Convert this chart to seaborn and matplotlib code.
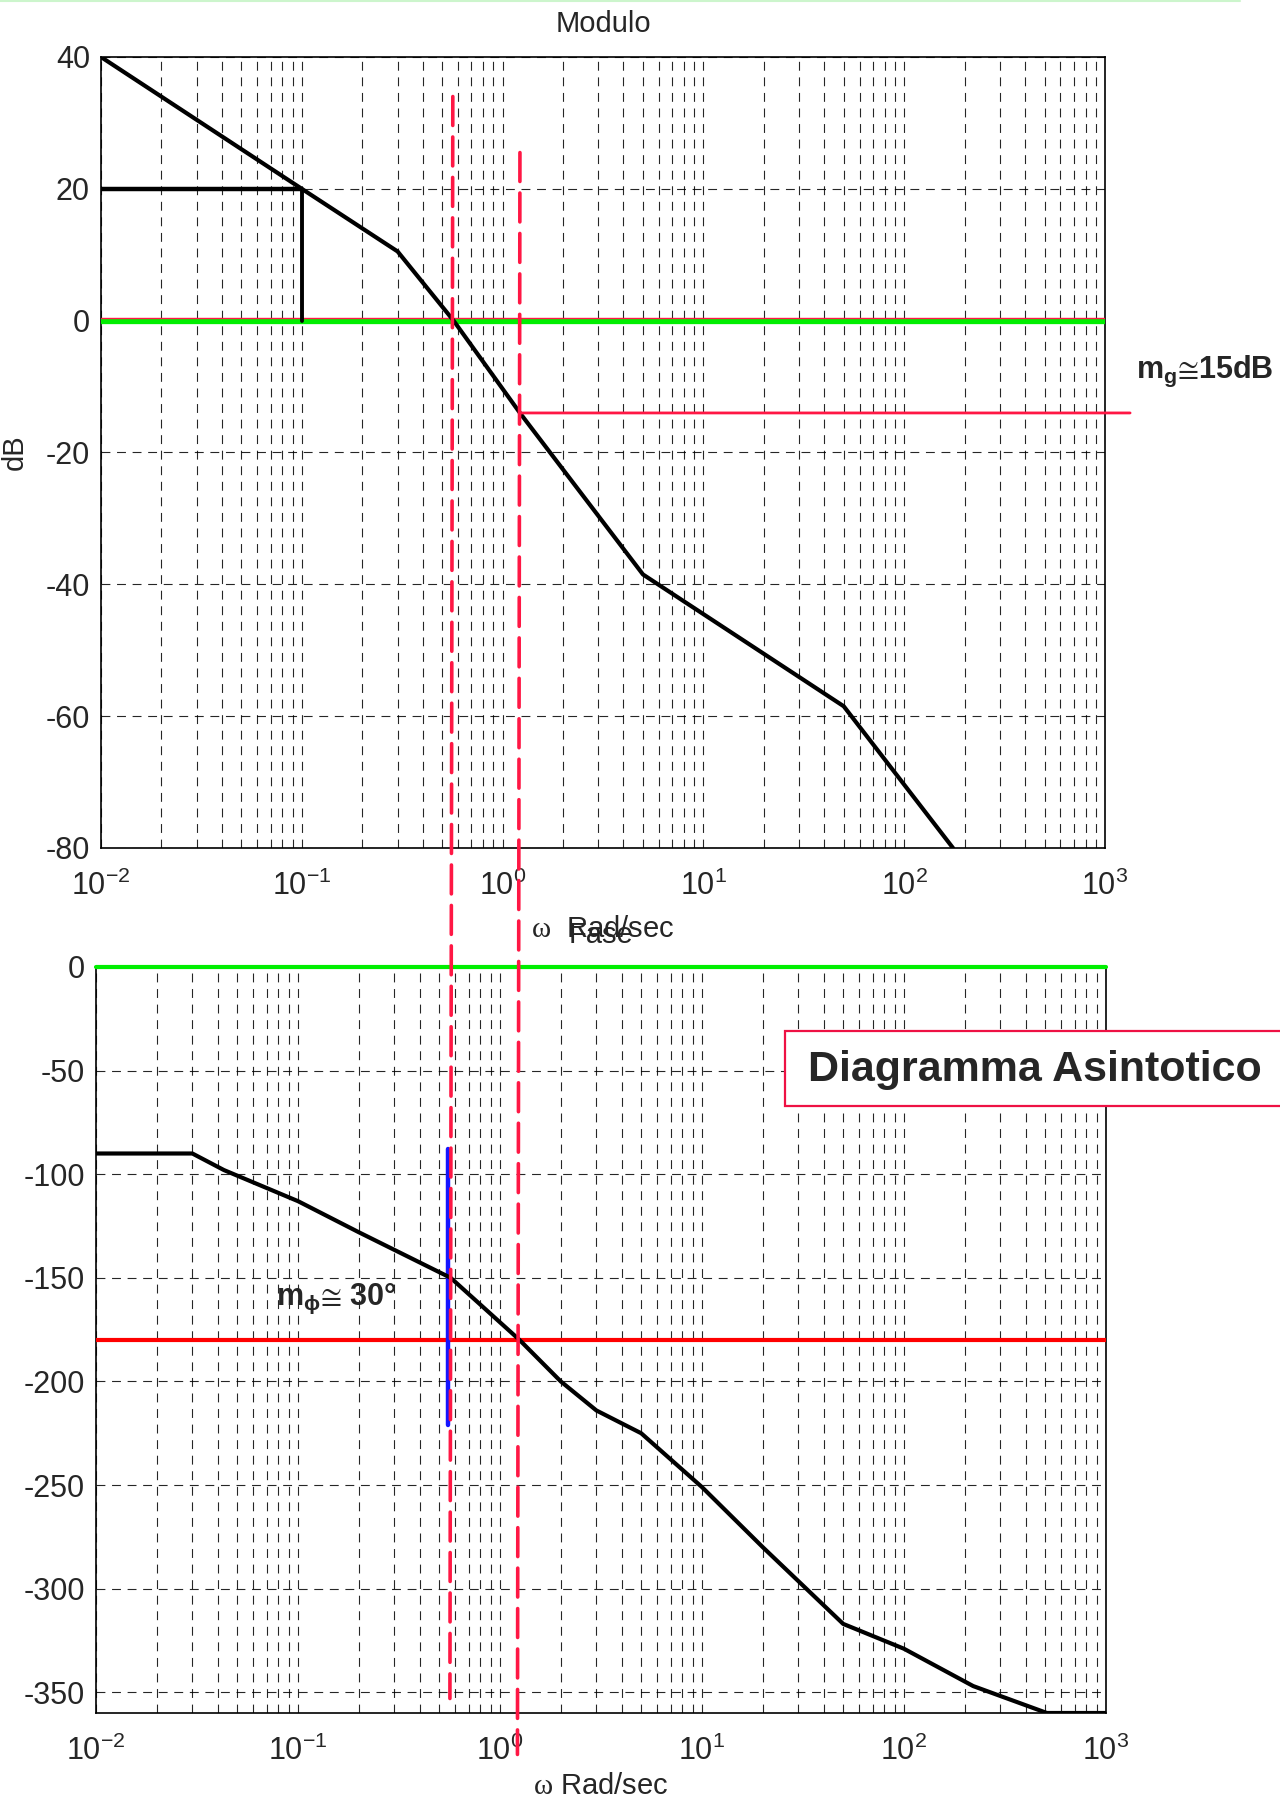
import matplotlib
matplotlib.use("Agg")
import matplotlib.pyplot as plt
import seaborn as sns
import pandas as pd
from matplotlib.patches import ConnectionPatch, Rectangle
from matplotlib.lines import Line2D
from matplotlib.ticker import LogLocator, FixedLocator, NullFormatter, LogFormatterSciNotation
import matplotlib.transforms as mtransforms

# ---------------- data ----------------
omega_mag = [0.01, 0.1, 0.3, 0.57, 1.22, 5.0, 50.0, 175.0]
mag_db = [40, 20, 10.5, 0, -14, -38.5, -58.5, -80]

omega_phase = [0.01, 0.03, 0.043, 0.1, 0.2, 0.57, 1.25, 2.0, 3.0, 5.0,
               10.0, 20.0, 50.0, 100.0, 220.0, 510.0, 1000.0]
phase_deg = [-90, -90, -98, -113, -128, -150, -180, -200, -214, -225,
             -251, -280, -317, -329, -347, -360, -360]

omega_c = 0.565         # gain crossover (0 dB)
omega_pm = 0.555        # blue phase-margin segment
omega_pi = 1.22         # phase crossover (-180 deg)
gm_level_db = -14       # magnitude at omega_pi
ref_omega = 0.1         # reference marker
ref_db = 20
pm_span = [-88, -221]   # blue segment on phase plot
phase_ref = -180
omega_c_top_db, omega_c_bottom_deg = 34, -353
omega_pi_top_db, omega_pi_bottom_deg = 25.5, -380

x_ticks = [1e-2, 1e-1, 1e0, 1e1, 1e2, 1e3]
mag_ticks = [40, 20, 0, -20, -40, -60, -80]
phase_ticks = [0, -50, -100, -150, -200, -250, -300, -350]

mag_df = pd.DataFrame({"omega": omega_mag, "dB": mag_db})
phase_df = pd.DataFrame({"omega": omega_phase, "deg": phase_deg})

# ---------------- style ----------------
sns.set_style("white")
plt.rcParams["font.family"] = ["Liberation Sans", "DejaVu Sans"]
plt.rcParams["axes.unicode_minus"] = False
plt.rcParams["mathtext.fontset"] = "custom"
plt.rcParams["mathtext.rm"] = "Liberation Serif"
plt.rcParams["mathtext.it"] = "Liberation Sans:italic"
plt.rcParams["mathtext.bf"] = "Liberation Sans:bold"
plt.rcParams["mathtext.sf"] = "Liberation Sans"
plt.rcParams["mathtext.fallback"] = "stix"

FS = 21
TICK_FS = 22
GRID_LS = (0, (8, 6))

fig = plt.figure(figsize=(12.8, 18), dpi=100)
W, H = 1280, 1800
ax1 = fig.add_axes([101 / W, 1 - 848 / H, (1105 - 101) / W, (848 - 57) / H])
ax2 = fig.add_axes([96 / W, 1 - 1713 / H, (1106 - 96) / W, (1713 - 967) / H])

for ax in (ax1, ax2):
    ax.set_xscale("log")
    ax.set_xlim(x_ticks[0], x_ticks[-1])
    ax.xaxis.set_major_locator(FixedLocator(x_ticks))
    ax.xaxis.set_major_formatter(LogFormatterSciNotation())
    ax.xaxis.set_minor_locator(LogLocator(base=10, subs=range(2, 10), numticks=50))
    ax.xaxis.set_minor_formatter(NullFormatter())
    ax.grid(which="major", axis="both", linestyle=GRID_LS, linewidth=0.8, color="black", alpha=0.85)
    ax.grid(which="minor", axis="x", linestyle=GRID_LS, linewidth=0.8, color="black", alpha=0.85)
    ax.tick_params(which="major", direction="in", length=5, labelsize=TICK_FS, pad=8)
    ax.tick_params(axis="x", which="major", pad=16)
    ax.tick_params(which="minor", length=0)
    for s in ax.spines.values():
        s.set_color("black")
        s.set_linewidth(1.2)
    ax.set_axisbelow(True)

# ---------------- magnitude ----------------
ax1.set_ylim(-80, 40)
ax1.yaxis.set_major_locator(FixedLocator(mag_ticks))
off_up = mtransforms.ScaledTranslation(0, 2.2 / 100, fig.dpi_scale_trans)
ax1.axhline(0, color="#00ee00", lw=3.8, zorder=3)
ax1.plot([0, 1], [0, 0], transform=ax1.get_yaxis_transform() + off_up,
         color="#ff1744", lw=1.0, zorder=3)
ax1.plot([omega_mag[0], ref_omega], [ref_db, ref_db], color="black", lw=3.2, zorder=4,
         solid_capstyle="butt")
ax1.plot([ref_omega, ref_omega], [ref_db, 0], color="black", lw=2.8, zorder=4)
sns.lineplot(data=mag_df, x="omega", y="dB", ax=ax1, color="black", lw=3.0, zorder=5)
ax1.set_xlim(x_ticks[0], x_ticks[-1])
ax1.set_ylim(-80, 40)
ax1.set_title("Modulo", fontsize=FS, pad=18)
ax1.set_ylabel("dB", fontsize=FS, labelpad=12)
ax1.set_xlabel(r"$\mathrm{\omega}$  Rad/sec", fontsize=FS, labelpad=10)

gm_line = ConnectionPatch(xyA=(omega_pi, gm_level_db), coordsA=ax1.transData,
                          xyB=(1.025, gm_level_db), coordsB=ax1.get_yaxis_transform(),
                          color="#ff1744", lw=2.0)
fig.add_artist(gm_line)

fig.text(1136 / W, 1 - 371 / H, "m$_{\\mathbf{g}}$$\u2245$15dB", fontsize=22,
         fontweight="bold", va="center", ha="left")

# ---------------- phase ----------------
ax2.set_ylim(-360, 0)
ax2.yaxis.set_major_locator(FixedLocator(phase_ticks))
ax2.axhline(0, color="#00ee00", lw=3.0, zorder=6, clip_on=False)
ax2.axhline(phase_ref, color="#ff0000", lw=3.0, zorder=3)
ax2.plot([omega_pm, omega_pm], pm_span, color="#1515ff", lw=3.2, zorder=4)
sns.lineplot(data=phase_df, x="omega", y="deg", ax=ax2, color="black", lw=3.0, zorder=5)
ax2.set_xlim(x_ticks[0], x_ticks[-1])
ax2.set_ylim(-360, 0)
ax2.set_ylabel("")
ax2.set_title("Fase", fontsize=FS, pad=17)
ax2.set_xlabel(r"$\mathrm{\omega}$ Rad/sec", fontsize=FS, labelpad=4)

ax2.text(0.078, -160, "m$_{\\mathbf{\\phi}}$$\u2245$ 30°", fontsize=22,
         fontweight="bold", va="center", ha="left", zorder=7)

# ---------------- crossing lines spanning both plots ----------------
for xw, ytop, ybot in [(omega_c, omega_c_top_db, omega_c_bottom_deg),
                       (omega_pi, omega_pi_top_db, omega_pi_bottom_deg)]:
    con = ConnectionPatch(xyA=(xw, ytop), coordsA=ax1.transData,
                          xyB=(xw, ybot), coordsB=ax2.transData,
                          color="#ff1744", lw=2.6, linestyle=(0, (8, 3.2)), zorder=10)
    fig.add_artist(con)

# ---------------- boxed label ----------------
box = Rectangle((785 / W, 1 - 1106 / H), (1290 - 785) / W, 75 / H, transform=fig.transFigure,
                facecolor="white", edgecolor="#ee1144", lw=1.6, zorder=20)
fig.add_artist(box)
fig.text(808 / W, 1 - 1070 / H, "Diagramma Asintotico", fontsize=31, fontweight="bold",
         va="center", ha="left", zorder=21)

# thin pale border line at the very top
fig.add_artist(Line2D([0, 1240 / W], [0.9995, 0.9995], color="#ccf5cc", lw=1.5))

fig.savefig("out.png", dpi=100)
